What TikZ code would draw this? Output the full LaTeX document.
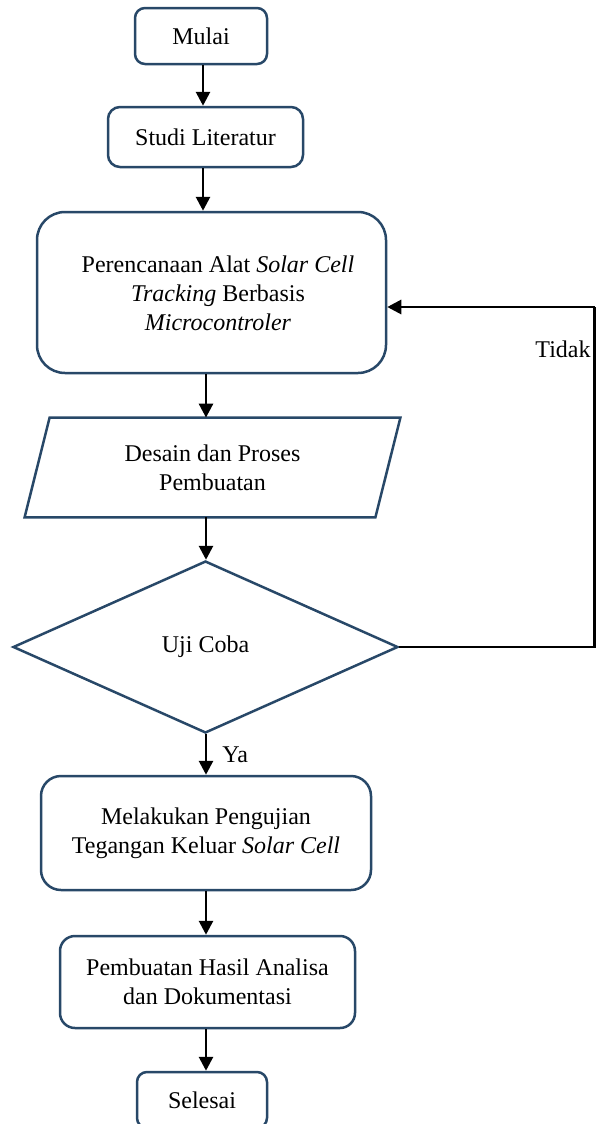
\documentclass[tikz,border=0pt]{standalone}
\usepackage{fontspec}
\setmainfont{Liberation Serif}
\usetikzlibrary{arrows.meta,shapes.geometric,calc}
\definecolor{boxc}{RGB}{40,72,104}
\begin{document}
\begin{tikzpicture}[x=0.5pt,y=-0.5pt,
  every node/.style={font=\fontsize{12pt}{14.5pt}\selectfont},
  rbox/.style={draw=boxc,line width=1.25pt,rectangle,align=center,inner sep=0pt},
  arr/.style={line width=1.4pt,-{Triangle[width=7pt,length=7pt]}},
  plain/.style={line width=1.4pt}]
\useasboundingbox (0,0) rectangle (596,1124);
\coordinate (ax1) at (203,0);
\coordinate (ax2) at (206,0);
\coordinate (fbx) at (594.5,0);
\node[rbox,rounded corners=5pt,minimum width=66pt,minimum height=28pt] (mulai) at (201,36) {Mulai};
\node[rbox,rounded corners=6pt,minimum width=97.5pt,minimum height=30pt] (studi) at (205.5,137) {Studi Literatur};
\node[rbox,rounded corners=14pt,minimum width=174.5pt,minimum height=80.5pt] (pere) at (211.5,292.5) {};
\node[align=center] (peretxt) at (218,293) {Perencanaan Alat \textit{Solar Cell}\\\textit{Tracking} Berbasis\\\textit{Microcontroler}};
\node[rectangle,inner sep=0pt,minimum width=175pt,minimum height=49.5pt,align=center] (desain) at (212.5,467.5) {Desain dan Proses\\Pembuatan};
\draw[boxc,line width=1.25pt] ([xshift=6.25pt]desain.north west) -- ([xshift=6.25pt]desain.north east) -- ([xshift=-6.25pt]desain.south east) -- ([xshift=-6.25pt]desain.south west) -- cycle;
\node[diamond,draw=boxc,line width=1.25pt,inner sep=0pt,aspect=2.24,minimum width=192.5pt,minimum height=86pt] (uji) at (205.5,647) {Uji Coba};
\node[rbox,rounded corners=10pt,minimum width=165pt,minimum height=57pt] (melakukan) at (206,833) {Melakukan Pengujian\\Tegangan Keluar \textit{Solar Cell}};
\node[rbox,rounded corners=7.5pt,minimum width=147.5pt,minimum height=46pt] (hasil) at (207.5,982) {Pembuatan Hasil Analisa\\dan Dokumentasi};
\node[rbox,rounded corners=5pt,minimum width=65pt,minimum height=28pt] (selesai) at (202,1100) {Selesai};
\node[anchor=base east,inner sep=0pt] (tidak) at (591,357) {Tidak};
\node[anchor=base west,inner sep=0pt] (ya) at (222,762) {Ya};
\draw[arr] (mulai.south -| ax1) -- (studi.north -| ax1);
\draw[arr] (studi.south -| ax1) -- (pere.north -| ax1);
\draw[arr] (pere.south -| ax2) -- (desain.north -| ax2);
\draw[arr] (desain.south -| ax2) -- (uji.north -| ax2);
\draw[arr] (uji.south -| ax2) -- (melakukan.north -| ax2);
\draw[arr] (melakukan.south -| ax2) -- (hasil.north -| ax2);
\draw[arr] (hasil.south -| ax2) -- (selesai.north -| ax2);
\coordinate (tgt) at ([yshift=-7.25pt]pere.east);
\draw[plain] (uji.east) -- (uji.east -| fbx) -- (fbx |- tgt);
\draw[arr] (fbx |- tgt) -- (tgt);
\end{tikzpicture}
\end{document}
